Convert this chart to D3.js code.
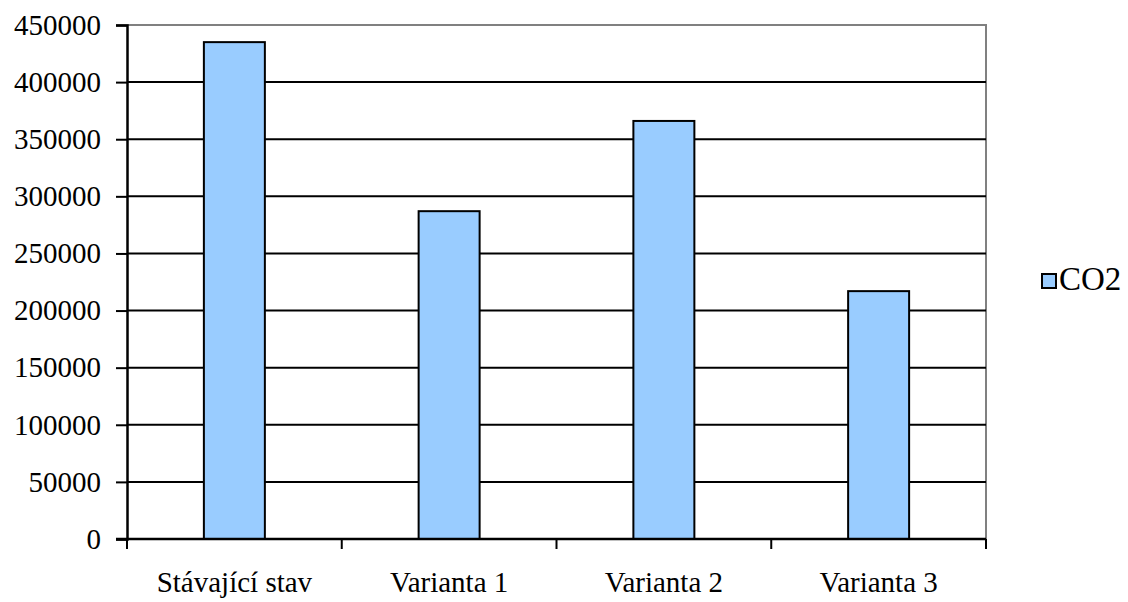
<!DOCTYPE html>
<html>
<head>
<meta charset="utf-8">
<script src="https://cdn.jsdelivr.net/npm/d3@7"></script>
<style>
  html, body { margin: 0; padding: 0; background: #fff; }
  svg { display: block; }
  svg text { font-family: "Times New Roman", "Liberation Serif", "DejaVu Serif", serif !important; fill: #000; }
</style>
</head>
<body>
<svg id="chart" width="1128" height="602"></svg>
<script>
// CO2 emissions for the current state and three variants
const categories = ["Stávající stav", "Varianta 1", "Varianta 2", "Varianta 3"];
const co2Values = [435000, 287000, 366000, 217000];
const seriesName = "CO2";
const yTicks = [0, 50000, 100000, 150000, 200000, 250000, 300000, 350000, 400000, 450000];

const svg = d3.select("#chart");
const plot = { left: 127, right: 986, top: 25, bottom: 539 };
const fontSize = 29;
const serif = "'Times New Roman', 'Liberation Serif', 'DejaVu Serif', serif";

const x = d3.scaleBand()
  .domain(categories)
  .range([plot.left, plot.right])
  .paddingInner(0.716)
  .paddingOuter(0.358);

const xBoundary = d3.scaleLinear()
  .domain([0, categories.length])
  .range([plot.left, plot.right]);

const y = d3.scaleLinear()
  .domain([0, 450000])
  .range([plot.bottom, plot.top]);

// plot border (top and right) in grey
svg.append("path")
  .attr("d", `M${plot.left},${plot.top}H${plot.right}V${plot.bottom}`)
  .attr("fill", "none")
  .attr("stroke", "#808080")
  .attr("stroke-width", 2);

// horizontal gridlines
svg.append("g")
  .selectAll("line")
  .data(yTicks.filter(t => t > 0 && t < 450000))
  .join("line")
  .attr("x1", plot.left)
  .attr("x2", plot.right)
  .attr("y1", d => y(d))
  .attr("y2", d => y(d))
  .attr("stroke", "#000")
  .attr("stroke-width", 2);

// bars
svg.append("g")
  .selectAll("rect")
  .data(categories.map((c, i) => ({ c, v: co2Values[i] })))
  .join("rect")
  .attr("x", d => x(d.c))
  .attr("y", d => y(d.v))
  .attr("width", x.bandwidth())
  .attr("height", d => y(0) - y(d.v))
  .attr("fill", "#99ccff")
  .attr("stroke", "#000")
  .attr("stroke-width", 2);

// y axis
const yAxis = svg.append("g")
  .attr("transform", `translate(${plot.left},0)`)
  .call(d3.axisLeft(y).tickValues(yTicks).tickSize(11).tickPadding(15).tickFormat(d3.format("d")))
  .attr("font-family", serif)
  .attr("font-size", fontSize);
yAxis.select(".domain").attr("stroke", "#000").attr("stroke-width", 2.5);
yAxis.selectAll(".tick line").attr("stroke", "#000").attr("stroke-width", 2);
yAxis.selectAll(".tick text").attr("fill", "#000");

// x axis line and category boundary ticks
const xAxis = svg.append("g")
  .attr("font-family", serif)
  .attr("font-size", fontSize);
xAxis.append("line")
  .attr("x1", plot.left - 11)
  .attr("x2", plot.right)
  .attr("y1", plot.bottom)
  .attr("y2", plot.bottom)
  .attr("stroke", "#000")
  .attr("stroke-width", 2.5);
xAxis.selectAll("line.tick")
  .data(d3.range(categories.length + 1))
  .join("line")
  .attr("class", "tick")
  .attr("x1", d => xBoundary(d))
  .attr("x2", d => xBoundary(d))
  .attr("y1", plot.bottom)
  .attr("y2", plot.bottom + 10)
  .attr("stroke", "#000")
  .attr("stroke-width", 2);
xAxis.selectAll("text")
  .data(categories)
  .join("text")
  .attr("x", d => x(d) + x.bandwidth() / 2)
  .attr("y", 592)
  .attr("text-anchor", "middle")
  .text(d => d);

// legend
const legend = svg.append("g")
  .attr("transform", "translate(1042,274)")
  .attr("font-family", serif)
  .attr("font-size", 33);
legend.append("rect")
  .attr("width", 14)
  .attr("height", 14)
  .attr("fill", "#99ccff")
  .attr("stroke", "#000")
  .attr("stroke-width", 2);
legend.append("text")
  .attr("x", 17)
  .attr("y", 16)
  .text(seriesName);
</script>
</body>
</html>
